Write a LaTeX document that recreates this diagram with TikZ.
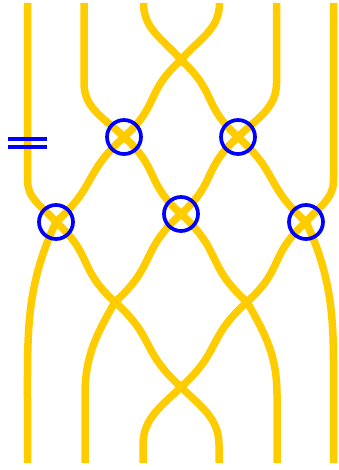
\documentclass[tikz,border=0pt]{standalone}
\definecolor{strandyellow}{RGB}{255,204,0}
\definecolor{ringblue}{RGB}{0,0,255}
\tikzset{
  strand/.style={draw=strandyellow, line width=7.5pt, line cap=butt, line join=round},
  dr/.style={out=-42, in=138, looseness=1.3},
  dl/.style={out=-138, in=42, looseness=1.3},
  ring/.style={circle, draw=ringblue, line width=3.7pt, minimum size=34pt, inner sep=0pt},
  eqbar/.style={draw=ringblue, line width=3.7pt}
}
\begin{document}
\begin{tikzpicture}[x=1pt,y=1pt]
\useasboundingbox (0,0) rectangle (338,470);
% crossings
\coordinate (X1) at (181,410);
\coordinate (C1) at (124,333);
\coordinate (C2) at (238,333);
\coordinate (C3) at (56,248);
\coordinate (C4) at (181,256);
\coordinate (C5) at (306,248);
\coordinate (X2) at (115,168);
\coordinate (X3) at (247,168);
\coordinate (X4) at (181,83);
% ends
\coordinate (t1) at (27.5,467); \coordinate (t2) at (84,467); \coordinate (t3) at (143.5,467);
\coordinate (t4) at (219.5,467); \coordinate (t5) at (276.5,467); \coordinate (t6) at (333.5,467);
\coordinate (b1) at (27.5,7); \coordinate (b2) at (85,7); \coordinate (b3) at (143,7);
\coordinate (b4) at (219,7); \coordinate (b5) at (277,7); \coordinate (b6) at (333.5,7);
% strands
\path[strand] (t1) -- (27.5,290) to[out=-90,in=130] (C3) to[dr] (X2)
  to[dr] (X4) to[out=-45,in=90] (219,25) -- (b4);
\path[strand] (t2) -- (84,387) to[out=-90,in=135] (C1) to[dr] (C4)
  to[dr] (X3) to[out=-60,in=90] (277,75) -- (b5);
\path[strand] (t3) to[out=-90,in=130] (X1) to[dr] (C2)
  to[dr] (C5) to[out=-65,in=90] (333.5,70) -- (b6);
\path[strand] (t4) to[out=-90,in=50] (X1) to[dl] (C1)
  to[dl] (C3) to[out=-115,in=90] (27.5,70) -- (b1);
\path[strand] (t5) -- (276.5,387) to[out=-90,in=45] (C2) to[dl] (C4)
  to[dl] (X2) to[out=-120,in=90] (85,75) -- (b2);
\path[strand] (t6) -- (333.5,290) to[out=-90,in=50] (C5) to[dl] (X3)
  to[dl] (X4) to[out=-135,in=90] (143,25) -- (b3);
% rings
\node[ring] (r1) at (C1) {};
\node[ring] (r2) at (C2) {};
\node[ring] (r3) at (C3) {};
\node[ring] (r4) at (C4) {};
\node[ring] (r5) at (C5) {};
% equals sign
\coordinate (e1) at (8,331); \coordinate (e2) at (47,331);
\coordinate (e3) at (8,323); \coordinate (e4) at (47,323);
\path[eqbar] (e1) -- (e2);
\path[eqbar] (e3) -- (e4);
\end{tikzpicture}
\end{document}
